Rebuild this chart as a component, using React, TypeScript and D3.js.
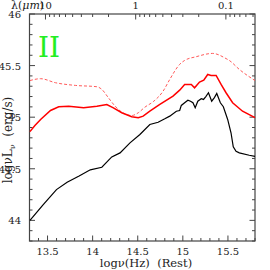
import React, { useEffect, useRef } from 'react';
import * as d3 from 'd3';

// log nu (Hz) / log nuL_nu (erg/s)
const blackNu = [13.305, 13.45, 13.599, 13.717, 13.85, 13.974, 14.102, 14.212, 14.304, 14.414, 14.524, 14.634, 14.726, 14.8, 14.855, 14.928, 14.965, 14.983, 15.02, 15.056, 15.085, 15.112, 15.137, 15.166, 15.204, 15.229, 15.255, 15.284, 15.32, 15.35, 15.376, 15.416, 15.449, 15.497, 15.534, 15.559, 15.59, 15.626, 15.736, 15.8];
const blackL = [44.0, 44.15, 44.298, 44.369, 44.43, 44.49, 44.515, 44.615, 44.654, 44.751, 44.832, 44.929, 44.951, 44.984, 45.01, 45.058, 45.065, 45.114, 45.14, 45.165, 45.155, 45.14, 45.091, 45.155, 45.179, 45.172, 45.2, 45.237, 45.155, 45.19, 45.23, 45.14, 45.101, 44.978, 44.849, 44.713, 44.67, 44.654, 44.631, 44.62];

const redNu = [13.305, 13.36, 13.423, 13.533, 13.624, 13.735, 13.9, 14.047, 14.157, 14.23, 14.323, 14.433, 14.506, 14.56, 14.634, 14.745, 14.891, 14.965, 15.02, 15.094, 15.13, 15.185, 15.232, 15.276, 15.313, 15.369, 15.424, 15.479, 15.552, 15.662, 15.8];
const redL = [44.86, 44.92, 44.978, 45.065, 45.101, 45.107, 45.091, 45.107, 45.123, 45.091, 45.043, 45.004, 44.994, 45.01, 45.058, 45.123, 45.204, 45.262, 45.317, 45.317, 45.285, 45.34, 45.359, 45.414, 45.405, 45.405, 45.317, 45.237, 45.14, 45.058, 44.996];

const dashNu = [13.305, 13.423, 13.588, 13.808, 14.047, 14.102, 14.175, 14.249, 14.323, 14.433, 14.506, 14.579, 14.671, 14.781, 14.855, 14.965, 15.02, 15.148, 15.331, 15.479, 15.515, 15.626, 15.8];
const dashL = [45.355, 45.373, 45.334, 45.308, 45.295, 45.269, 45.188, 45.107, 45.049, 45.016, 45.043, 45.097, 45.15, 45.252, 45.366, 45.512, 45.55, 45.586, 45.618, 45.568, 45.55, 45.463, 45.355];

const bottomTicks = [13.5, 14, 14.5, 15, 15.5];
const leftTicks = [44, 44.5, 45, 45.5, 46];
const lambdaMajor = [10, 1, 0.1];
const lambdaLabels = ['10', '1', '0.1'];
const lambdaMinor = [9, 8, 7, 6, 5, 4, 3, 2, 0.9, 0.8, 0.7, 0.6, 0.5, 0.4, 0.3, 0.2, 0.09, 0.08, 0.07, 0.06, 0.05];

const W = 270, H = 270;
const serif = "'DejaVu Serif', 'Liberation Serif', serif";

export default function App() {
  const ref = useRef<SVGSVGElement>(null);

  useEffect(() => {
    const svg = d3.select(ref.current);
    svg.selectAll('*').remove();

    const x = d3.scaleLinear().domain([13.3, 15.8]).range([29.5, 255]);
    const y = d3.scaleLinear().domain([43.8, 46]).range([241, 14]);
    const lamX = (l: number) => x(Math.log10(3e14 / l));
    const axisCol = '#444';

    const minorX = d3.range(13.3, 15.81, 0.1).map(v => +v.toFixed(1));
    const minorY = d3.range(43.8, 46.01, 0.1).map(v => +v.toFixed(1));

    // frame
    svg.append('rect').attr('x', x(13.3)).attr('y', y(46))
      .attr('width', x(15.8) - x(13.3)).attr('height', y(43.8) - y(46))
      .attr('fill', 'none').attr('stroke', axisCol).attr('stroke-width', 1.2);

    const g = svg.append('g').attr('stroke', axisCol).attr('stroke-width', 1);
    // bottom ticks
    minorX.forEach(v => {
      const major = bottomTicks.some(t => Math.abs(t - v) < 1e-6);
      g.append('line').attr('x1', x(v)).attr('x2', x(v))
        .attr('y1', y(43.8)).attr('y2', y(43.8) - (major ? 5.5 : 3));
    });
    // left and right ticks
    minorY.forEach(v => {
      const major = leftTicks.some(t => Math.abs(t - v) < 1e-6);
      const len = major ? 5.5 : 3;
      g.append('line').attr('x1', x(13.3)).attr('x2', x(13.3) + len).attr('y1', y(v)).attr('y2', y(v));
      g.append('line').attr('x1', x(15.8)).attr('x2', x(15.8) - len).attr('y1', y(v)).attr('y2', y(v));
    });
    // top wavelength ticks
    lambdaMajor.forEach(l => {
      g.append('line').attr('x1', lamX(l)).attr('x2', lamX(l)).attr('y1', y(46)).attr('y2', y(46) + 5.5);
    });
    lambdaMinor.forEach(l => {
      g.append('line').attr('x1', lamX(l)).attr('x2', lamX(l)).attr('y1', y(46)).attr('y2', y(46) + 3);
    });

    const txt = svg.append('g').style('font-family', serif).style('font-size', '10px').attr('fill', '#222');
    bottomTicks.forEach(t => {
      txt.append('text').attr('x', x(t)).attr('y', 255).attr('text-anchor', 'middle').text(String(t));
    });
    leftTicks.forEach(t => {
      txt.append('text').attr('x', 21).attr('y', y(t) + 4).attr('text-anchor', 'end').text(String(t));
    });
    lambdaMajor.forEach((l, i) => {
      txt.append('text').attr('x', lamX(l)).attr('y', 9).attr('text-anchor', 'middle').text(lambdaLabels[i]);
    });
    const lt = txt.append('text').attr('x', 11).attr('y', 9).style('font-size', '11px');
    lt.append('tspan').text('λ(');
    lt.append('tspan').attr('font-style', 'italic').text('μm');
    lt.append('tspan').text(')');

    txt.append('text').attr('x', 146).attr('y', 267).attr('text-anchor', 'middle')
      .style('font-size', '11.5px').style('white-space', 'pre')
      .text('logν(Hz)  (Rest)');

    const yt = txt.append('text').attr('transform', 'translate(12,140) rotate(-90)')
      .attr('text-anchor', 'middle').style('font-size', '12px').style('white-space', 'pre');
    yt.append('tspan').text('logνL');
    yt.append('tspan').style('font-size', '8px').attr('dy', 3).text('ν');
    yt.append('tspan').attr('dy', -3).text('  (erg/s)');

    svg.append('text').attr('x', 38).attr('y', 57).style('font-family', serif)
      .style('font-size', '28px').attr('fill', '#22ee22').text('II');

    const line = d3.line<[number, number]>().x(d => x(d[0])).y(d => y(d[1]));
    const plot = svg.append('g');
    plot.append('path').datum(d3.zip(dashNu, dashL) as [number, number][])
      .attr('d', line.curve(d3.curveMonotoneX)).attr('fill', 'none')
      .attr('stroke', '#ff5a5a').attr('stroke-width', 1).attr('stroke-dasharray', '3,2');
    plot.append('path').datum(d3.zip(redNu, redL) as [number, number][])
      .attr('d', line.curve(d3.curveLinear)).attr('fill', 'none')
      .attr('stroke', '#ff0000').attr('stroke-width', 1.5);
    plot.append('path').datum(d3.zip(blackNu, blackL) as [number, number][])
      .attr('d', line.curve(d3.curveLinear)).attr('fill', 'none')
      .attr('stroke', '#000').attr('stroke-width', 1.2);
  }, []);

  return (
    <svg ref={ref} width={W} height={H} style={{ position: 'absolute', left: 0, top: 0, background: '#fff' }} />
  );
}
